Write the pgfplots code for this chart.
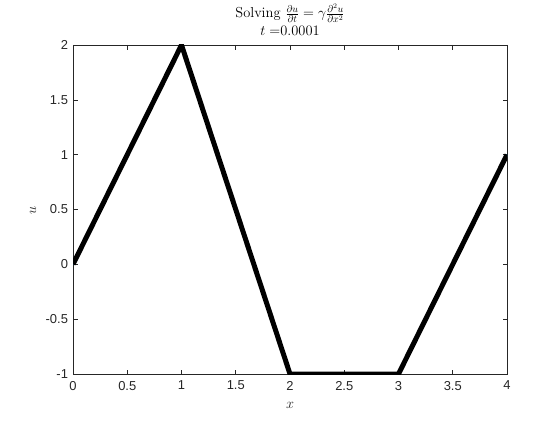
\documentclass[border=0pt]{standalone}
\usepackage{pgfplots}
\pgfplotsset{compat=1.18}
\usepackage{fontspec}
\newfontfamily\arialf{Liberation Sans}
\definecolor{axgray}{RGB}{38,38,38}
\definecolor{mblue}{RGB}{0,114,189}
\begin{document}
\begin{tikzpicture}[x=1bp,y=1bp]
\useasboundingbox (0,0) rectangle (560,420);
\begin{axis}[
  at={(73bp,46bp)}, anchor=south west,
  scale only axis, width=434bp, height=329bp,
  xmin=0, xmax=4, ymin=-1, ymax=2,
  xtick={0,0.5,1,1.5,2,2.5,3,3.5,4},
  xticklabels={0,0.5,1,1.5,2,2.5,3,3.5,4},
  ytick={-1,-0.5,0,0.5,1,1.5,2},
  yticklabels={-1,-0.5,0,0.5,1,1.5,2},
  tick align=inside,
  major tick length=4.5bp,
  axis line style={axgray, line width=0.6bp},
  every tick/.style={axgray, line width=0.6bp},
  tick label style={font=\arialf\fontsize{13}{15}\selectfont, text=axgray},
  xticklabel style={yshift=-3.5bp},
  yticklabel style={xshift=-1.5bp},
  clip=true,
]
\addplot[mblue, line width=2bp, line join=miter] coordinates {(0,0) (1,2) (2,-1) (3,-1) (4,1)};
\addplot[black, line width=5bp, line join=bevel] coordinates {(0,0) (1,2) (2,-1) (3,-1) (4,1)};
\end{axis}
\node[anchor=base, font=\fontsize{14.5}{17}\selectfont, text=black] at (290,402) {Solving $\frac{\partial u}{\partial t} = \gamma \frac{\partial^2 u}{\partial x^2}$};
\node[anchor=base, font=\fontsize{14.5}{17}\selectfont, text=black] at (290,385) {$t =$0.0001};
\node[font=\fontsize{14.5}{17}\selectfont, text=axgray] at (290,15) {$x$};
\node[rotate=90, font=\fontsize{14.5}{17}\selectfont, text=axgray] at (33,210) {$u$};
\end{tikzpicture}
\end{document}
